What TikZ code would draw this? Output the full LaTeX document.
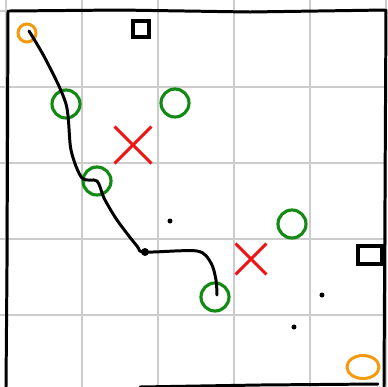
\documentclass[tikz,border=0pt]{standalone}
\usepackage{tikz}
\usetikzlibrary{shapes.geometric,shapes.misc}
\definecolor{goalgreen}{HTML}{138A13}
\definecolor{homeorange}{HTML}{F59A0C}
\definecolor{pitred}{HTML}{EE1515}
\definecolor{gridgray}{HTML}{CCCCCC}

\begin{document}
\begin{tikzpicture}[
    x=0.02cm, y=-0.02cm,
    gridline/.style={draw=gridgray, line width=1.1pt},
    frame/.style={draw, line width=1.7pt, line cap=round, line join=round},
    goal/.style={circle, draw=goalgreen, line width=1.8pt, minimum size=0.56cm, inner sep=0pt},
    home/.style={draw=homeorange, line width=1.7pt, inner sep=0pt},
    pit/.style={cross out, draw=pitred, line width=1.7pt, inner sep=0pt},
    wall/.style={rectangle, draw, line width=1.8pt, inner sep=0pt},
    crumb/.style={circle, fill, inner sep=0pt, minimum size=0.1cm},
    trail/.style={line width=1.7pt, line cap=round, line join=round},
]
    \useasboundingbox (0,0) rectangle (387,387);

    % Grid
    \foreach \x in {6,82,...,386}
        \draw[gridline] (\x,0) -- (\x,387);
    \foreach \y in {11,87,...,315}
        \draw[gridline] (0,\y) -- (387,\y);

    % Frame
    \draw[frame] (9,11) -- (120,10) -- (250,12) -- (385,10);
    \draw[frame] (8,11) -- (7,268) -- (6,387);
    \draw[frame] (386,10) -- (385,200) -- (384,387);
    \draw[frame] (140,387) -- (260,385) -- (378,384);

    % Start and end
    \node[home, circle, minimum size=0.36cm] (s0) at (27,33) {};
    \node[home, ellipse, minimum width=0.64cm, minimum height=0.46cm] (s1) at (363,367) {};

    % Walls
    \node[wall, minimum size=0.32cm] (w1) at (141,29) {};
    \node[wall, minimum width=0.48cm, minimum height=0.36cm] (w2) at (370,255) {};

    % Goals
    \node[goal] (g1) at (66,104) {};
    \node[goal] (g2) at (175,103) {};
    \node[goal] (g3) at (97,181) {};
    \node[goal] (g4) at (292,224) {};
    \node[goal] (g5) at (215,297) {};

    % Pits
    \node[pit, minimum size=0.68cm] (p1) at (133,145) {};
    \node[pit, minimum size=0.56cm] (p2) at (251,259) {};

    % Crumbs
    \node[crumb] (c1) at (170,221) {};
    \node[crumb] (c2) at (322,295) {};
    \node[crumb] (c3) at (294,327) {};

    % Trail
    \coordinate (t1) at (82,178);
    \coordinate (t2) at (145,252);
    \draw[trail] plot[smooth, tension=0.5] coordinates {
        (29,31) (46,60) (g1.center) (71,150) (t1) (g3.center)
        (104,198) (117,220) (137,246) (t2) (197,251) (211,263) (216,280) (217,295)};
    \fill (t2) circle[radius=4];
\end{tikzpicture}
\end{document}
